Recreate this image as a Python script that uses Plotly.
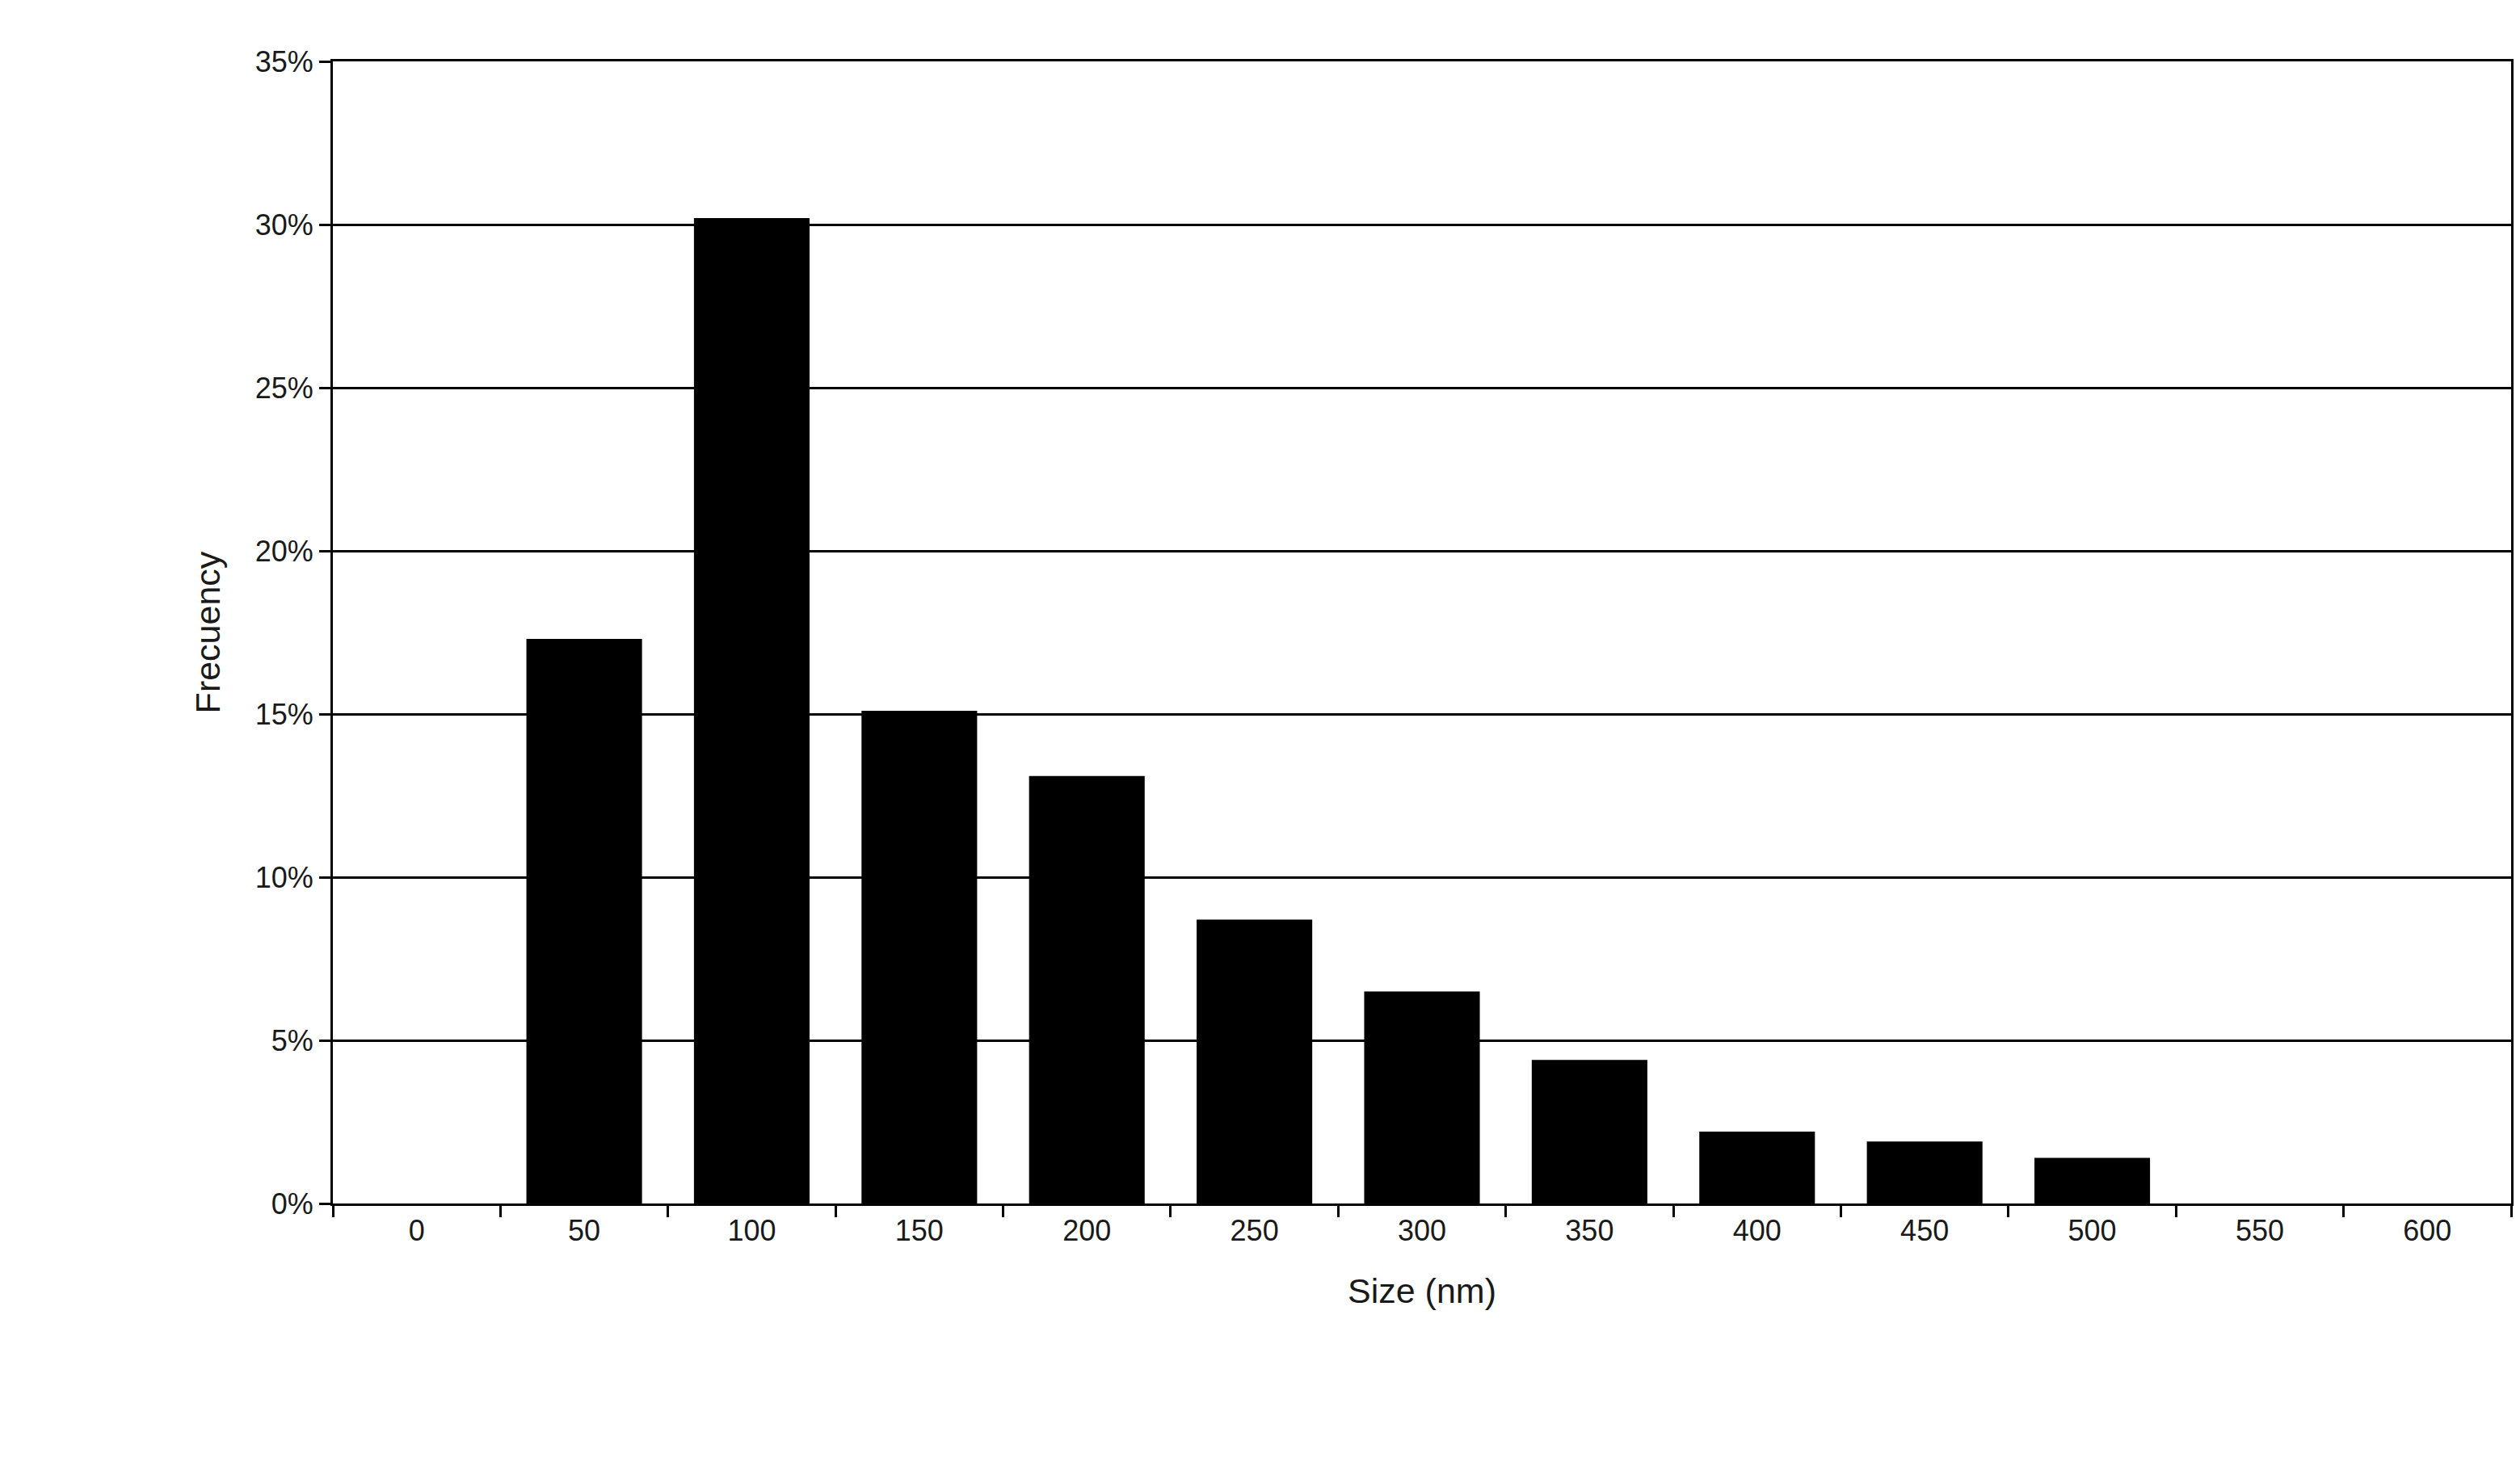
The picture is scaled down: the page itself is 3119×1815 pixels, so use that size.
import plotly.graph_objects as go

sizes = ['0', '50', '100', '150', '200', '250', '300', '350', '400', '450', '500', '550', '600']
frequency = [0, 17.3, 30.2, 15.1, 13.1, 8.7, 6.5, 4.4, 2.2, 1.9, 1.4, 0, 0]

fig = go.Figure()
fig.add_trace(go.Bar(
    x=sizes,
    y=[f / 100 for f in frequency],
    marker=dict(color='black', line=dict(width=0)),
    width=0.69,
))

fig.update_layout(
    width=3119, height=1815,
    paper_bgcolor='white', plot_bgcolor='white',
    margin=dict(l=404, r=19, t=68, b=333),
    font=dict(family='Liberation Sans, Arial, sans-serif', size=36, color='#1a1a1a'),
    showlegend=False,
)
fig.update_xaxes(
    type='category',
    title=dict(text='Size (nm)', standoff=40),
    ticks='outside', tickson='boundaries', ticklen=14, tickwidth=3, tickcolor='black',
    showline=True, linecolor='black', linewidth=3, mirror=True,
    showgrid=False,
)
fig.update_yaxes(
    range=[0, 0.35], dtick=0.05, tickformat='.0%',
    title=dict(text='Frecuency', standoff=30),
    ticks='outside', ticklen=14, tickwidth=3, tickcolor='black',
    showline=True, linecolor='black', linewidth=3, mirror=True,
    showgrid=True, gridcolor='black', gridwidth=3,
)

fig.write_html("out.html")
